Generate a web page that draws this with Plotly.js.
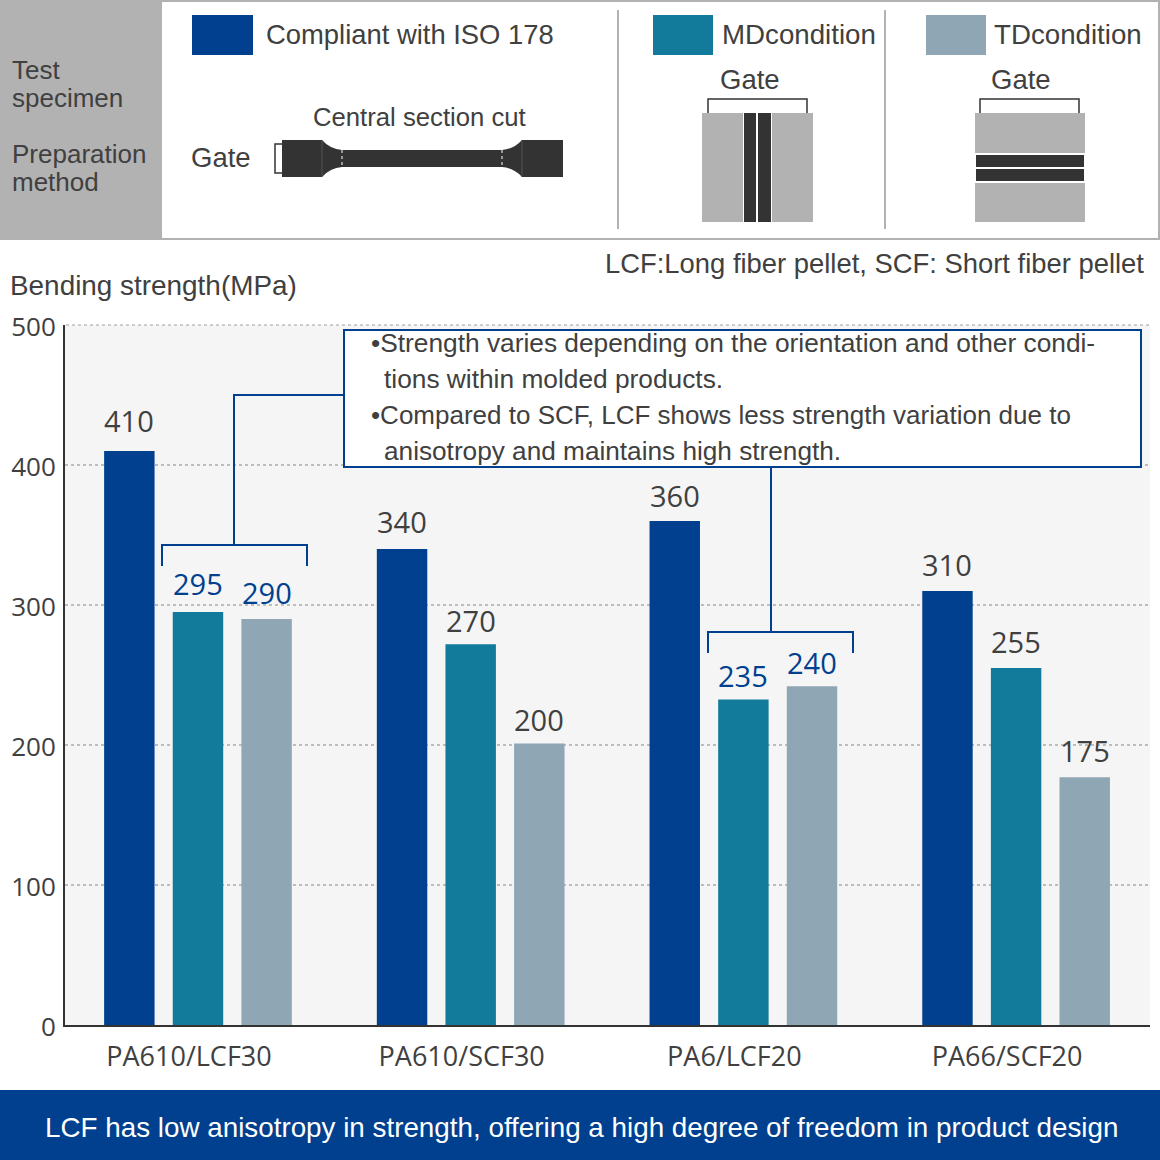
<!DOCTYPE html>
<html>
<head>
<meta charset="utf-8">
<script src="https://cdn.plot.ly/plotly-3.0.1.min.js"></script>
<style>
  html, body { margin: 0; padding: 0; background: #fff; }
  #chart { width: 1160px; height: 1160px; }
</style>
</head>
<body>
<div id="chart"></div>
<script>
// -----------------------------
// Data
// -----------------------------
const materials = ["PA610/LCF30", "PA610/SCF30", "PA6/LCF20", "PA66/SCF20"];
// printed values
const isoLabels = [410, 340, 360, 310];
const mdLabels = [295, 270, 235, 255];
const tdLabels = [290, 200, 240, 175];
// bar heights as drawn in the picture (a few differ slightly from the printed number)
const isoHeights = [410, 340, 360, 310];
const mdHeights = [295, 272, 232.5, 255];
const tdHeights = [290, 201, 242, 177];
const yTicks = [0, 100, 200, 300, 400, 500];
const calloutLines = [
  "•Strength varies depending on the orientation and other condi-",
  "tions within molded products.",
  "•Compared to SCF, LCF shows less strength variation due to",
  "anisotropy and maintains high strength."
];
const highlightGroups = [0, 2]; // groups whose MD/TD labels are blue

const NAVY = "#00408e";
const TEAL = "#127a9a";
const STEEL = "#8fa6b5";
const DARK = "#333333";
const GREY = "#b2b2b2";
const TEXT = "#404040";
const SANS = "'Liberation Sans', Arial, sans-serif";
const LABEL_FONT = "'Open Sans', sans-serif";

// -----------------------------
// Pixel -> paper helpers (plot area is 65..1150 / 325..1025)
// -----------------------------
const L = 65, R = 1150, T = 325, B = 1025;
const px = (x) => (x - L) / (R - L);
const py = (y) => (B - y) / (B - T);

function rect(x0, y0, x1, y1, fill) {
  return {
    type: "rect", xref: "paper", yref: "paper",
    x0: px(x0), x1: px(x1), y0: py(y0), y1: py(y1),
    fillcolor: fill, line: { width: 0 }
  };
}

function poly(points, color, width, dash) {
  const d = points.map((p, i) => (i ? "L" : "M") + px(p[0]) + "," + py(p[1])).join(" ");
  return {
    type: "path", xref: "paper", yref: "paper", path: d,
    line: { color: color, width: width || 2, dash: dash || "solid" }
  };
}

function note(x, y, text, size, color, anchor, family) {
  return {
    xref: "paper", yref: "paper", x: px(x), y: py(y), text: text,
    showarrow: false, xanchor: anchor || "left", yanchor: "middle", borderpad: 0,
    font: { family: family || SANS, size: size, color: color || TEXT }
  };
}

// -----------------------------
// Bars
// -----------------------------
const traces = [
  { name: "Compliant with ISO 178", y: isoHeights, color: NAVY },
  { name: "MDcondition", y: mdHeights, color: TEAL },
  { name: "TDcondition", y: tdHeights, color: STEEL }
].map((s) => ({
  type: "bar", name: s.name, x: materials, y: s.y,
  marker: { color: s.color, line: { width: 0 } }, hoverinfo: "y+name"
}));

// value labels sit above each bar, offset by the grouped bar slot
const SLOT = 0.2518;
const labelLift = [[31, 28, 26, 27], [29, 24, 24, 27], [27, 24, 24, 27]]; // px above bar top
const barLabels = [];
[isoLabels, mdLabels, tdLabels].forEach((vals, s) => {
  const heights = [isoHeights, mdHeights, tdHeights][s];
  vals.forEach((v, i) => {
    const blue = s > 0 && highlightGroups.includes(i);
    barLabels.push({
      xref: "x", yref: "y", x: i + (s - 1) * SLOT, y: heights[i], text: String(v),
      showarrow: false, yanchor: "middle", yshift: labelLift[s][i], borderpad: 0,
      font: { family: LABEL_FONT, size: 29, color: blue ? NAVY : TEXT }
    });
  });
});

// -----------------------------
// Header panel and callout shapes
// -----------------------------
const headerShapes = [
  poly([[0, 1], [1159, 1], [1159, 239], [0, 239]], GREY, 2),
  rect(0, 0, 162, 240, GREY),
  poly([[618, 10], [618, 229]], GREY, 2),
  poly([[885, 10], [885, 229]], GREY, 2),
  rect(192, 15, 253, 55, NAVY),
  rect(653, 15, 713, 55, TEAL),
  rect(926, 15, 986, 55, STEEL),
  // dogbone specimen
  poly([[282, 144], [275, 144], [275, 173], [282, 173]], DARK, 1.5),
  {
    type: "path", xref: "paper", yref: "paper", fillcolor: DARK, line: { width: 0 },
    path: "M" + px(282) + "," + py(140) + " L" + px(322) + "," + py(140) +
      " Q" + px(330) + "," + py(149) + " " + px(342) + "," + py(150) +
      " L" + px(502) + "," + py(150) +
      " Q" + px(514) + "," + py(149) + " " + px(522) + "," + py(140) +
      " L" + px(563) + "," + py(140) + " L" + px(563) + "," + py(177) + " L" + px(522) + "," + py(177) +
      " Q" + px(514) + "," + py(168) + " " + px(502) + "," + py(167) +
      " L" + px(342) + "," + py(167) +
      " Q" + px(330) + "," + py(168) + " " + px(322) + "," + py(177) +
      " L" + px(282) + "," + py(177) + " Z"
  },
  poly([[342, 150], [342, 167]], "#ffffff", 1, "dot"),
  poly([[502, 150], [502, 167]], "#ffffff", 1, "dot"),
  poly([[322, 140], [322, 177]], "#555555", 1),
  poly([[522, 140], [522, 177]], "#555555", 1),
  // MD specimen
  poly([[708, 113], [708, 99], [807, 99], [807, 113]], DARK, 1.5),
  rect(702, 113, 743, 222, GREY),
  rect(772, 113, 813, 222, GREY),
  rect(744, 113, 756, 222, DARK),
  rect(758, 113, 771, 222, DARK),
  // TD specimen
  poly([[980, 113], [980, 99], [1079, 99], [1079, 113]], DARK, 1.5),
  rect(975, 113, 1085, 153, GREY),
  rect(975, 183, 1085, 222, GREY),
  rect(976, 155, 1084, 167, DARK),
  rect(976, 169, 1084, 181, DARK)
];

const calloutShapes = [
  // plotly skips the grid line at the range end, so the 500 line is drawn here
  poly([[66, 325], [1150, 325]], "#bdbdbd", 1.5, "dot"),
  {
    type: "rect", xref: "paper", yref: "paper",
    x0: px(344), x1: px(1141), y0: py(467), y1: py(330),
    fillcolor: "#ffffff", line: { color: NAVY, width: 2 }
  },
  poly([[344, 395], [234, 395], [234, 545]], NAVY, 2),
  poly([[162, 566], [162, 545], [307, 545], [307, 566]], NAVY, 2),
  poly([[771, 467], [771, 632]], NAVY, 2),
  poly([[708, 653], [708, 632], [853, 632], [853, 653]], NAVY, 2),
  rect(0, 1090, 1160, 1160, NAVY)
];

const textNotes = [
  note(11, 70, "Test", 26),
  note(11, 98, "specimen", 26),
  note(11, 154, "Preparation", 26),
  note(11, 182, "method", 26),
  note(265, 34, "Compliant with ISO 178", 27.4),
  note(721, 34, "MDcondition", 27.7),
  note(993, 34, "TDcondition", 27.7),
  note(312, 117, "Central section cut", 25.7),
  note(190, 158, "Gate", 27.5),
  note(719, 80, "Gate", 27.5),
  note(990, 80, "Gate", 27.5),
  note(1145, 263, "LCF:Long fiber pellet, SCF: Short fiber pellet", 27.4, TEXT, "right"),
  note(9, 285, "Bending strength(MPa)", 27.9),
  note(370, 343, calloutLines[0], 26.3),
  note(383, 379, calloutLines[1], 26.3),
  note(370, 415, calloutLines[2], 26),
  note(383, 451, calloutLines[3], 26.2),
  note(581.5, 1127, "LCF has low anisotropy in strength, offering a high degree of freedom in product design", 27.8, "#ffffff", "center")
];

// -----------------------------
// Layout
// -----------------------------
const layout = {
  width: 1160, height: 1160,
  margin: { l: L, r: 1160 - R, t: T, b: 1160 - B, pad: 0 },
  paper_bgcolor: "#ffffff",
  plot_bgcolor: "#f5f5f5",
  showlegend: false,
  barmode: "group",
  bargap: 0.245,
  bargroupgap: 0.265,
  xaxis: {
    type: "category", categoryorder: "array", categoryarray: materials,
    range: [-0.4876, 3.491], showgrid: false, ticks: "", fixedrange: true,
    showline: true, linecolor: DARK, linewidth: 2, ticklen: 0,
    ticklabelstandoff: 7, ticklabelshift: -9,
    tickfont: { family: LABEL_FONT, size: 27, color: TEXT }, automargin: false
  },
  yaxis: {
    range: [0, 500], tickvals: yTicks, ticktext: yTicks.map(String), fixedrange: true,
    showgrid: true, gridcolor: "#bdbdbd", griddash: "dot", gridwidth: 1.5,
    zeroline: false, showline: true, linecolor: DARK, linewidth: 2, ticks: "",
    ticklabelstandoff: 2, ticklabelshift: 2,
    tickfont: { family: LABEL_FONT, size: 26, color: TEXT }, automargin: false
  },
  shapes: headerShapes.concat(calloutShapes),
  annotations: barLabels.concat(textNotes)
};

Plotly.newPlot("chart", traces, layout, { displayModeBar: false, responsive: false });
</script>
</body>
</html>
